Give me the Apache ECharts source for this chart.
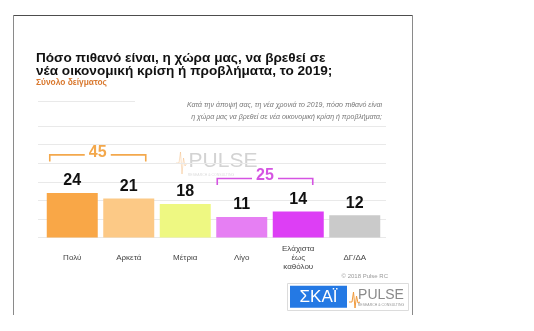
<!DOCTYPE html>
<html>
<head>
<meta charset="utf-8">
<script src="https://cdn.jsdelivr.net/npm/echarts@6/dist/echarts.min.js"></script>
<style>html,body{margin:0;padding:0;background:#fff;}#c{width:534px;height:331px;}</style>
</head>
<body>
<div id="c"></div>
<script>
// ---- data ----
const categories = ['Πολύ', 'Αρκετά', 'Μέτρια', 'Λίγο', 'Ελάχιστα\nέως\nκαθόλου', 'ΔΓ/ΔΑ'];
const values = [24, 21, 18, 11, 14, 12];
const groupStart = [0, 3];
const groupEnd = [1, 4];
const yTicks = [0, 10, 20, 30, 40, 50, 60];

// ---- styles ----
const FONT = '"Liberation Sans", Arial, sans-serif';
const barColors = ['#F9A747', '#FCC986', '#EEF882', '#E67FF3', '#DD3EF5', '#CACACA'];
const bracketStyle = [
  { color: '#F3A84C', dl: -22.5, dr: 17, lift: 38 },
  { color: '#D554E2', dl: -24.5, dr: 14.5, lift: 33 }
];

const groupSums = groupStart.map((s, i) => {
  let t = 0;
  for (let k = s; k <= groupEnd[i]; k++) t += values[k];
  return t;
});
const bracketData = groupStart.map((s, i) => [s, groupEnd[i], groupSums[i]]);

const chart = echarts.init(document.getElementById('c'), null, { renderer: 'canvas' });

const gridTop = 126, gridBottom = 93.5;

const option = {
  animation: false,
  backgroundColor: '#ffffff',
  grid: [
    { left: 38, right: 148, top: gridTop, bottom: gridBottom },
    { left: 44, right: 151, top: gridTop, bottom: gridBottom }
  ],
  xAxis: [
    { gridIndex: 0, type: 'category', data: categories, show: false },
    {
      gridIndex: 1, type: 'category', data: categories,
      axisLine: { show: false }, axisTick: { show: false },
      axisLabel: {
        interval: 0, margin: 20, verticalAlign: 'middle',
        fontFamily: FONT, fontSize: 8, color: '#444', lineHeight: 9
      }
    }
  ],
  yAxis: [
    {
      gridIndex: 0, type: 'value', min: yTicks[0], max: yTicks[yTicks.length - 1], interval: 10,
      axisLine: { show: false }, axisTick: { show: false }, axisLabel: { show: false },
      splitLine: { show: true, lineStyle: { color: '#e9e9e9', width: 1 } }
    },
    {
      gridIndex: 1, type: 'value', min: yTicks[0], max: yTicks[yTicks.length - 1], interval: 10,
      show: false, splitLine: { show: false }
    }
  ],
  series: [
    {
      type: 'bar',
      xAxisIndex: 1, yAxisIndex: 1,
      barWidth: 51,
      data: values.map((v, i) => ({ value: v, itemStyle: { color: barColors[i] } })),
      label: {
        show: true, position: 'top', distance: 4,
        fontFamily: FONT, fontSize: 16, fontWeight: 'bold', color: '#111'
      },
      z: 3
    },
    {
      type: 'custom',
      xAxisIndex: 1, yAxisIndex: 1,
      clip: false,
      data: bracketData,
      renderItem: function (params, api) {
        const i = params.dataIndex;
        const s = api.value(0), e = api.value(1), sum = api.value(2);
        let mx = 0;
        for (let k = s; k <= e; k++) mx = Math.max(mx, values[k]);
        const st = bracketStyle[i];
        const pL = api.coord([s, mx]);
        const pR = api.coord([e, mx]);
        const x1 = pL[0] + st.dl, x2 = pR[0] + st.dr;
        const y = pL[1] - st.lift;
        const mid = (x1 + x2) / 2;
        const gap = 13, tick = 6.5;
        const ls = { stroke: st.color, lineWidth: 1.6, fill: null };
        return {
          type: 'group',
          children: [
            { type: 'polyline', shape: { points: [[x1, y + tick], [x1, y], [mid - gap, y]] }, style: ls },
            { type: 'polyline', shape: { points: [[mid + gap, y], [x2, y], [x2, y + tick]] }, style: ls },
            { type: 'text', style: { x: mid, y: y - 2.5, text: String(sum), fill: st.color,
              font: 'bold 16px ' + FONT, textAlign: 'center', textVerticalAlign: 'middle' } }
          ]
        };
      },
      z: 4
    }
  ],
  graphic: [
    // frame
    { type: 'line', shape: { x1: 13, y1: 15.5, x2: 412.5, y2: 15.5 }, style: { stroke: '#4d4d4d', lineWidth: 1 }, z: 1 },
    { type: 'line', shape: { x1: 13.5, y1: 15, x2: 13.5, y2: 315 }, style: { stroke: '#8a8a8a', lineWidth: 1 }, z: 1 },
    { type: 'line', shape: { x1: 412.5, y1: 15, x2: 412.5, y2: 315 }, style: { stroke: '#8a8a8a', lineWidth: 1 }, z: 1 },
    // top faint rule
    { type: 'line', shape: { x1: 38, y1: 101.5, x2: 135, y2: 101.5 }, style: { stroke: '#e9e9e9', lineWidth: 1 }, z: 1 },
    // title
    { type: 'text', x: 36, y: 58.5, style: { text: 'Πόσο πιθανό είναι, η χώρα μας, να βρεθεί σε', font: 'bold 13.6px ' + FONT, fill: '#111', textVerticalAlign: 'middle' }, z: 5 },
    { type: 'text', x: 36, y: 71, style: { text: 'νέα οικονομική κρίση ή προβλήματα, το 2019;', font: 'bold 13.6px ' + FONT, fill: '#111', textVerticalAlign: 'middle' }, z: 5 },
    { type: 'text', x: 36, y: 83, style: { text: 'Σύνολο δείγματος', font: 'bold 8.4px ' + FONT, fill: '#D9782E', textVerticalAlign: 'middle' }, z: 5 },
    // question
    { type: 'text', x: 382, y: 105, style: { text: 'Κατά την άποψή σας, τη νέα χρονιά το 2019, πόσο πιθανό είναι', font: 'italic 7px ' + FONT, fill: '#777', textAlign: 'right', textVerticalAlign: 'middle' }, z: 5 },
    { type: 'text', x: 382, y: 116.7, style: { text: 'η χώρα μας να βρεθεί σε νέα οικονομική κρίση ή προβλήματα;', font: 'italic 7px ' + FONT, fill: '#777', textAlign: 'right', textVerticalAlign: 'middle' }, z: 5 },
    // watermark
    { type: 'polyline', shape: { points: [[176, 163], [179, 163], [180.5, 152], [182, 174], [183.5, 158], [185, 166], [187, 163]] }, style: { stroke: 'rgba(240,165,90,0.35)', lineWidth: 1, fill: null }, z: 0 },
    { type: 'text', x: 223, y: 161, style: { text: 'PULSE', font: '21px ' + FONT, fill: '#d3d3d3', textAlign: 'center', textVerticalAlign: 'middle' }, z: 0 },
    { type: 'text', x: 211, y: 175, style: { text: 'RESEARCH & CONSULTING', font: '3.5px ' + FONT, fill: '#dddddd', textAlign: 'center', textVerticalAlign: 'middle' }, z: 0 },
    // copyright
    { type: 'text', x: 388, y: 276.7, style: { text: '© 2018 Pulse RC', font: '6px ' + FONT, fill: '#9a9a9a', textAlign: 'right', textVerticalAlign: 'middle' }, z: 5 },
    // logos
    { type: 'rect', shape: { x: 287.5, y: 283.5, width: 121, height: 27 }, style: { fill: '#fff', stroke: '#dcdcdc', lineWidth: 1 }, z: 5 },
    { type: 'rect', shape: { x: 290, y: 285.7, width: 57, height: 22 }, style: { fill: '#2479E4' }, z: 6 },
    { type: 'text', x: 318.5, y: 297, style: { text: 'ΣΚΑΪ', font: '17px ' + FONT, fill: '#fff', textAlign: 'center', textVerticalAlign: 'middle' }, z: 7 },
    { type: 'polyline', shape: { points: [[349, 302], [352, 302], [353.5, 292], [355, 308], [356.5, 296], [358, 303], [360, 302]] }, style: { stroke: '#F09A3C', lineWidth: 1, fill: null }, z: 7 },
    { type: 'text', x: 381, y: 295.5, style: { text: 'PULSE', font: '14px ' + FONT, fill: '#8a8a8a', textAlign: 'center', textVerticalAlign: 'middle' }, z: 7 },
    { type: 'text', x: 381, y: 305.5, style: { text: 'RESEARCH & CONSULTING', font: '3.5px ' + FONT, fill: '#999', textAlign: 'center', textVerticalAlign: 'middle' }, z: 7 }
  ]
};
chart.setOption(option);
</script>
</body>
</html>
